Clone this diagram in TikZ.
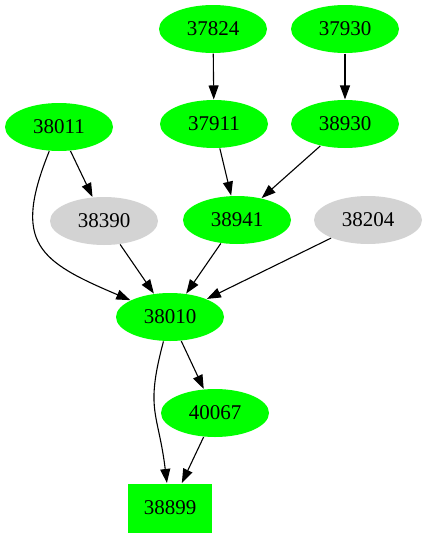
\documentclass[tikz,border=0pt]{standalone}
\usepackage{fontspec}
\setmainfont{Liberation Serif}
\usetikzlibrary{arrows.meta,shapes.geometric}
\definecolor{nodegray}{HTML}{D3D3D3}

\begin{document}
\begin{tikzpicture}[->,line width=1.1pt,>={Triangle[length=14pt,width=10pt]},color=black,x=1pt,y=-1pt,
  greennode/.style={ellipse,fill=green,minimum width=108pt,minimum height=48pt,inner sep=0pt,font=\fontsize{21}{25}\selectfont},
  graynode/.style={greennode,fill=nodegray},
  sinknode/.style={rectangle,fill=green,minimum width=84pt,minimum height=49pt,inner sep=0pt,font=\fontsize{21}{25}\selectfont}]
  \useasboundingbox (0,0) rectangle (427,539);
			\node[greennode] (37824) at (213,29){37824};
			\node[greennode] (37930) at (345,29){37930};
			\node[greennode] (38011) at (59,127){38011};
			\node[greennode] (37911) at (214,124){37911};
			\node[greennode] (38930) at (345,124){38930};
			\node[graynode] (38390) at (104,221){38390};
			\node[greennode] (38941) at (237,220){38941};
			\node[graynode] (38204) at (368,220){38204};
			\node[greennode] (38010) at (170,317){38010};
			\node[greennode] (40067) at (215,413){40067};
			\node[sinknode] (38899) at (170,508){38899};
			\draw (37824) -- (37911);
			\draw (37930) -- (38930);
			\draw (38011) -- (38390);
			\draw (38011) to[out=-112,in=157,looseness=1.5] (38010);
			\draw (37911) -- (38941);
			\draw (38930) -- (38941);
			\draw (38390) -- (38010);
			\draw (38941) -- (38010);
			\draw (38204) -- (38010);
			\draw (38010) -- (40067);
			\draw (38010) to[out=-105,in=97,looseness=1.3] (38899);
			\draw (40067) -- (38899);
		\end{tikzpicture}
\end{document}
